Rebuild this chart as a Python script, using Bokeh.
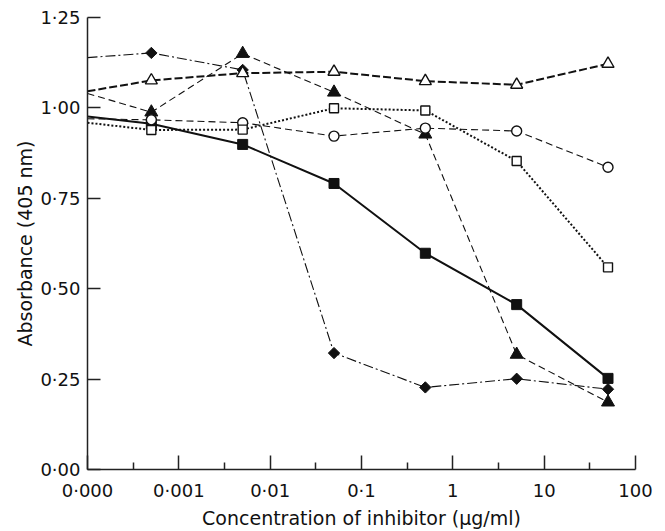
import numpy as np
from bokeh.plotting import figure
from bokeh.models import FixedTicker, Range1d
from bokeh.embed import file_html
from bokeh.resources import INLINE

# Concentration of inhibitor (ug/ml); 0 is plotted at the axis origin
conc = [0, 0.0005, 0.005, 0.05, 0.5, 5, 50]

x_ticks = [0, 1, 2, 3, 4, 5, 6]
x_tick_labels = ["0·000", "0·001", "0·01", "0·1", "1", "10", "100"]
y_ticks = [0.0, 0.25, 0.5, 0.75, 1.0, 1.25]
y_tick_labels = ["0·00", "0·25", "0·50", "0·75", "1·00", "1·25"]

# Absorbance (405 nm) per series
diamond_filled = [1.139, 1.152, 1.105, 0.322, 0.227, 0.251, 0.222]
triangle_filled = [1.040, 0.988, 1.150, 1.043, 0.927, 0.318, 0.186]
triangle_open = [1.046, 1.076, 1.096, 1.100, 1.074, 1.064, 1.122]
circle_open = [0.970, 0.967, 0.959, 0.922, 0.944, 0.936, 0.836]
square_open = [0.959, 0.939, 0.940, 0.999, 0.993, 0.853, 0.559]
square_filled = [0.976, 0.956, 0.899, 0.791, 0.598, 0.456, 0.252]

# log-decade axis position: 0 -> origin, 0.001 -> 1, ..., 100 -> 6
xpos = [0.0 if c == 0 else float(np.log10(c)) + 4.0 for c in conc]
xm = xpos[1:]

p = figure(width=665, height=531, x_range=Range1d(0, 6), y_range=Range1d(0, 1.25),
           output_backend="svg", toolbar_location=None,
           min_border_left=87, min_border_right=30, min_border_top=17, min_border_bottom=62)

p.xgrid.grid_line_color = None
p.ygrid.grid_line_color = None
p.outline_line_color = None
p.background_fill_color = "white"
p.border_fill_color = "white"

INK = "#111111"

# lines
p.line(xpos, diamond_filled, line_color=INK, line_width=1.1, line_dash="10 3 2 3")
p.line(xpos, triangle_filled, line_color=INK, line_width=1.1, line_dash="7 4")
p.line(xpos, triangle_open, line_color=INK, line_width=2, line_dash="8 3")
p.line(xpos, circle_open, line_color=INK, line_width=1.1, line_dash="7 4")
p.line(xpos, square_open, line_color=INK, line_width=2, line_dash="2 2")
p.line(xpos, square_filled, line_color=INK, line_width=2)

# markers
p.scatter(xm, diamond_filled[1:], marker="square", angle=np.pi / 4, size=8,
          fill_color=INK, line_color=INK, line_width=1)
p.scatter(xm, triangle_filled[1:], marker="triangle", size=13,
          fill_color=INK, line_color=INK, line_width=1)
p.scatter(xm, square_filled[1:], marker="square", size=10,
          fill_color=INK, line_color=INK, line_width=1)
p.scatter(xm, triangle_open[1:], marker="triangle", size=12,
          fill_color="white", line_color=INK, line_width=1.4)
p.scatter(xm, circle_open[1:], marker="circle", size=10,
          fill_color="white", line_color=INK, line_width=1.4)
p.scatter(xm, square_open[1:], marker="square", size=9,
          fill_color="white", line_color=INK, line_width=1.4)

# axes
p.xaxis.ticker = FixedTicker(ticks=x_ticks, minor_ticks=[t + 0.5 for t in x_ticks[:-1]])
p.xaxis.major_label_overrides = {t: l for t, l in zip(x_ticks, x_tick_labels)}
p.yaxis.ticker = FixedTicker(ticks=y_ticks, minor_ticks=[])
p.yaxis.major_label_overrides = {t: l for t, l in zip(y_ticks, y_tick_labels)}

p.xaxis.axis_label = "Concentration of inhibitor (μg/ml)"
p.yaxis.axis_label = "Absorbance (405 nm)"

for ax in (p.xaxis, p.yaxis):
    ax.axis_line_color = "#222222"
    ax.axis_line_width = 1.5
    ax.major_tick_line_color = "#222222"
    ax.major_tick_line_width = 1.5
    ax.major_tick_out = 0
    ax.minor_tick_out = 0
    ax.major_label_text_font = "DejaVu Sans"
    ax.major_label_text_font_size = "18px"
    ax.major_label_text_color = INK
    ax.axis_label_text_font = "DejaVu Sans"
    ax.axis_label_text_font_size = "19px"
    ax.axis_label_text_font_style = "normal"
    ax.axis_label_text_color = INK

p.xaxis.major_tick_in = 14
p.xaxis.minor_tick_in = 7
p.xaxis.minor_tick_line_color = "#222222"
p.xaxis.minor_tick_line_width = 1.5
p.yaxis.major_tick_in = 13
p.yaxis.minor_tick_line_color = None

p.xaxis.major_label_standoff = 10
p.xaxis.axis_label_standoff = 3
p.yaxis.major_label_standoff = 7
p.yaxis.axis_label_standoff = 1

open("out.html", "w").write(file_html(p, INLINE))
